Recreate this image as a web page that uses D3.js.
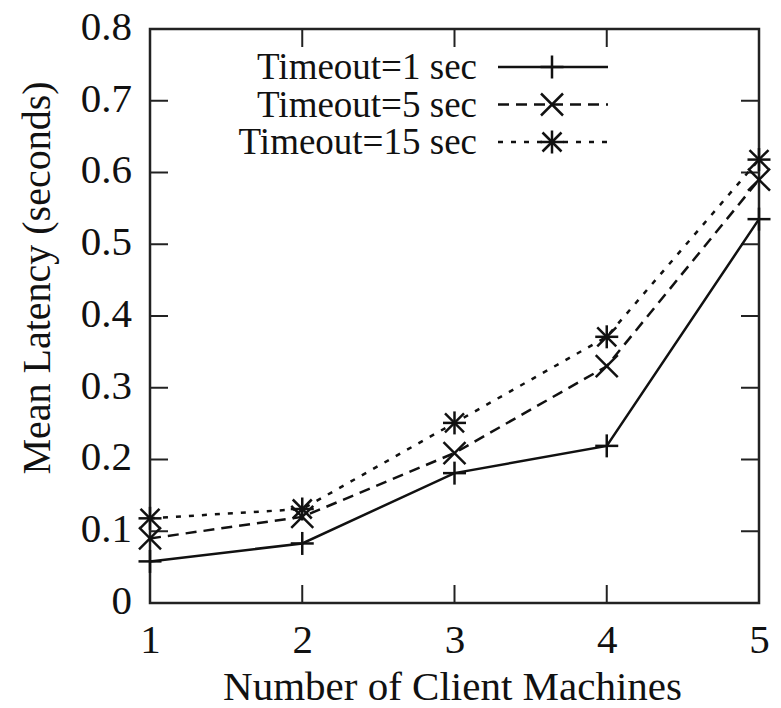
<!DOCTYPE html>
<html>
<head>
<meta charset="utf-8">
<script src="https://cdn.jsdelivr.net/npm/d3@7"></script>
<style>
  body { margin: 0; background: #fff; }
  svg text { font-family: "Liberation Serif", "DejaVu Serif", serif; fill: #111; }
</style>
</head>
<body>
<svg id="chart" width="781" height="708"></svg>
<script>
// data
const clients = [1, 2, 3, 4, 5];
const timeout1 = [0.058, 0.083, 0.181, 0.219, 0.535];
const timeout5 = [0.090, 0.120, 0.209, 0.330, 0.590];
const timeout15 = [0.118, 0.131, 0.251, 0.371, 0.618];
const yTicks = [0, 0.1, 0.2, 0.3, 0.4, 0.5, 0.6, 0.7, 0.8];
const seriesNames = ['Timeout=1 sec', 'Timeout=5 sec', 'Timeout=15 sec'];

const series = [
  { name: seriesNames[0], values: timeout1, dash: null, marker: 'plus' },
  { name: seriesNames[1], values: timeout5, dash: '11,7', marker: 'cross' },
  { name: seriesNames[2], values: timeout15, dash: '5,8', marker: 'star' }
];

const margin = { left: 150, right: 22, top: 29, bottom: 105 };
const width = 781, height = 708;

const svg = d3.select('#chart');

const x = d3.scaleLinear().domain([1, 5]).range([margin.left, width - margin.right]);
const y = d3.scaleLinear().domain([0, 0.8]).range([height - margin.bottom, margin.top]);

const tickLen = 18;

// labels; the tick marks are drawn by hand below (mirrored, inward)
const xAxisB = d3.axisBottom(x).tickValues(clients).tickSize(0).tickPadding(21).tickFormat(d3.format('d'));
const yAxisL = d3.axisLeft(y).tickValues(yTicks).tickSize(0).tickPadding(18).tickFormat(d => d === 0 ? '0' : d3.format('.1f')(d));

const gx = svg.append('g').attr('transform', `translate(0,${y(0)})`).call(xAxisB);
gx.select('.domain').remove();
gx.selectAll('text').style('font-size', '41px');

const gy = svg.append('g').attr('transform', `translate(${x(1)},0)`).call(yAxisL);
gy.select('.domain').remove();
gy.selectAll('text').style('font-size', '41px').attr('dy', '0.25em');

const tickG = svg.append('g').attr('stroke', '#222').attr('stroke-width', 2);
clients.forEach(c => {
  if (c === 1 || c === 5) return;
  tickG.append('line').attr('x1', x(c)).attr('x2', x(c)).attr('y1', y(0)).attr('y2', y(0) - tickLen);
  tickG.append('line').attr('x1', x(c)).attr('x2', x(c)).attr('y1', y(0.8)).attr('y2', y(0.8) + tickLen);
});
yTicks.forEach(t => {
  if (t === 0 || t === 0.8) return;
  tickG.append('line').attr('x1', x(1)).attr('x2', x(1) + tickLen).attr('y1', y(t)).attr('y2', y(t));
  tickG.append('line').attr('x1', x(5)).attr('x2', x(5) - tickLen).attr('y1', y(t)).attr('y2', y(t));
});

// frame
svg.append('rect')
  .attr('x', x(1)).attr('y', y(0.8))
  .attr('width', x(5) - x(1)).attr('height', y(0) - y(0.8))
  .attr('fill', 'none').attr('stroke', '#222').attr('stroke-width', 2.5);

// axis titles
svg.append('text')
  .attr('x', (x(1) + x(5)) / 2 - 2).attr('y', 700)
  .attr('text-anchor', 'middle').style('font-size', '41px')
  .text('Number of Client Machines');

svg.append('text')
  .attr('transform', `translate(50,278) rotate(-90)`)
  .attr('text-anchor', 'middle').style('font-size', '40px')
  .text('Mean Latency (seconds)');

function drawMarker(g, kind, cx, cy) {
  const s = 11.5;
  const m = g.append('g').attr('stroke', '#111').attr('stroke-width', 2.5).attr('fill', 'none');
  if (kind === 'plus' || kind === 'star') {
    m.append('line').attr('x1', cx - s).attr('x2', cx + s).attr('y1', cy).attr('y2', cy);
    m.append('line').attr('x1', cx).attr('x2', cx).attr('y1', cy - s).attr('y2', cy + s);
  }
  if (kind === 'cross' || kind === 'star') {
    const d = kind === 'star' ? 9.5 : 11;
    m.append('line').attr('x1', cx - d).attr('x2', cx + d).attr('y1', cy - d).attr('y2', cy + d);
    m.append('line').attr('x1', cx - d).attr('x2', cx + d).attr('y1', cy + d).attr('y2', cy - d);
  }
}

const line = d3.line().x((d, i) => x(clients[i])).y(d => y(d));

const plot = svg.append('g');
series.forEach(s => {
  plot.append('path')
    .datum(s.values)
    .attr('d', line)
    .attr('fill', 'none')
    .attr('stroke', '#111')
    .attr('stroke-width', 2.5)
    .attr('stroke-dasharray', s.dash);
  s.values.forEach((v, i) => drawMarker(plot, s.marker, x(clients[i]), y(v)));
});

// legend
const legend = svg.append('g');
series.forEach((s, i) => {
  const ly = 67 + i * 37.5;
  legend.append('text')
    .attr('x', 477).attr('y', ly + 12)
    .attr('text-anchor', 'end').style('font-size', '37px')
    .text(s.name);
  legend.append('line')
    .attr('x1', 498).attr('x2', 608).attr('y1', ly).attr('y2', ly)
    .attr('stroke', '#111').attr('stroke-width', 2.5)
    .attr('stroke-dasharray', s.dash);
  drawMarker(legend, s.marker, 552, ly);
});
</script>
</body>
</html>
